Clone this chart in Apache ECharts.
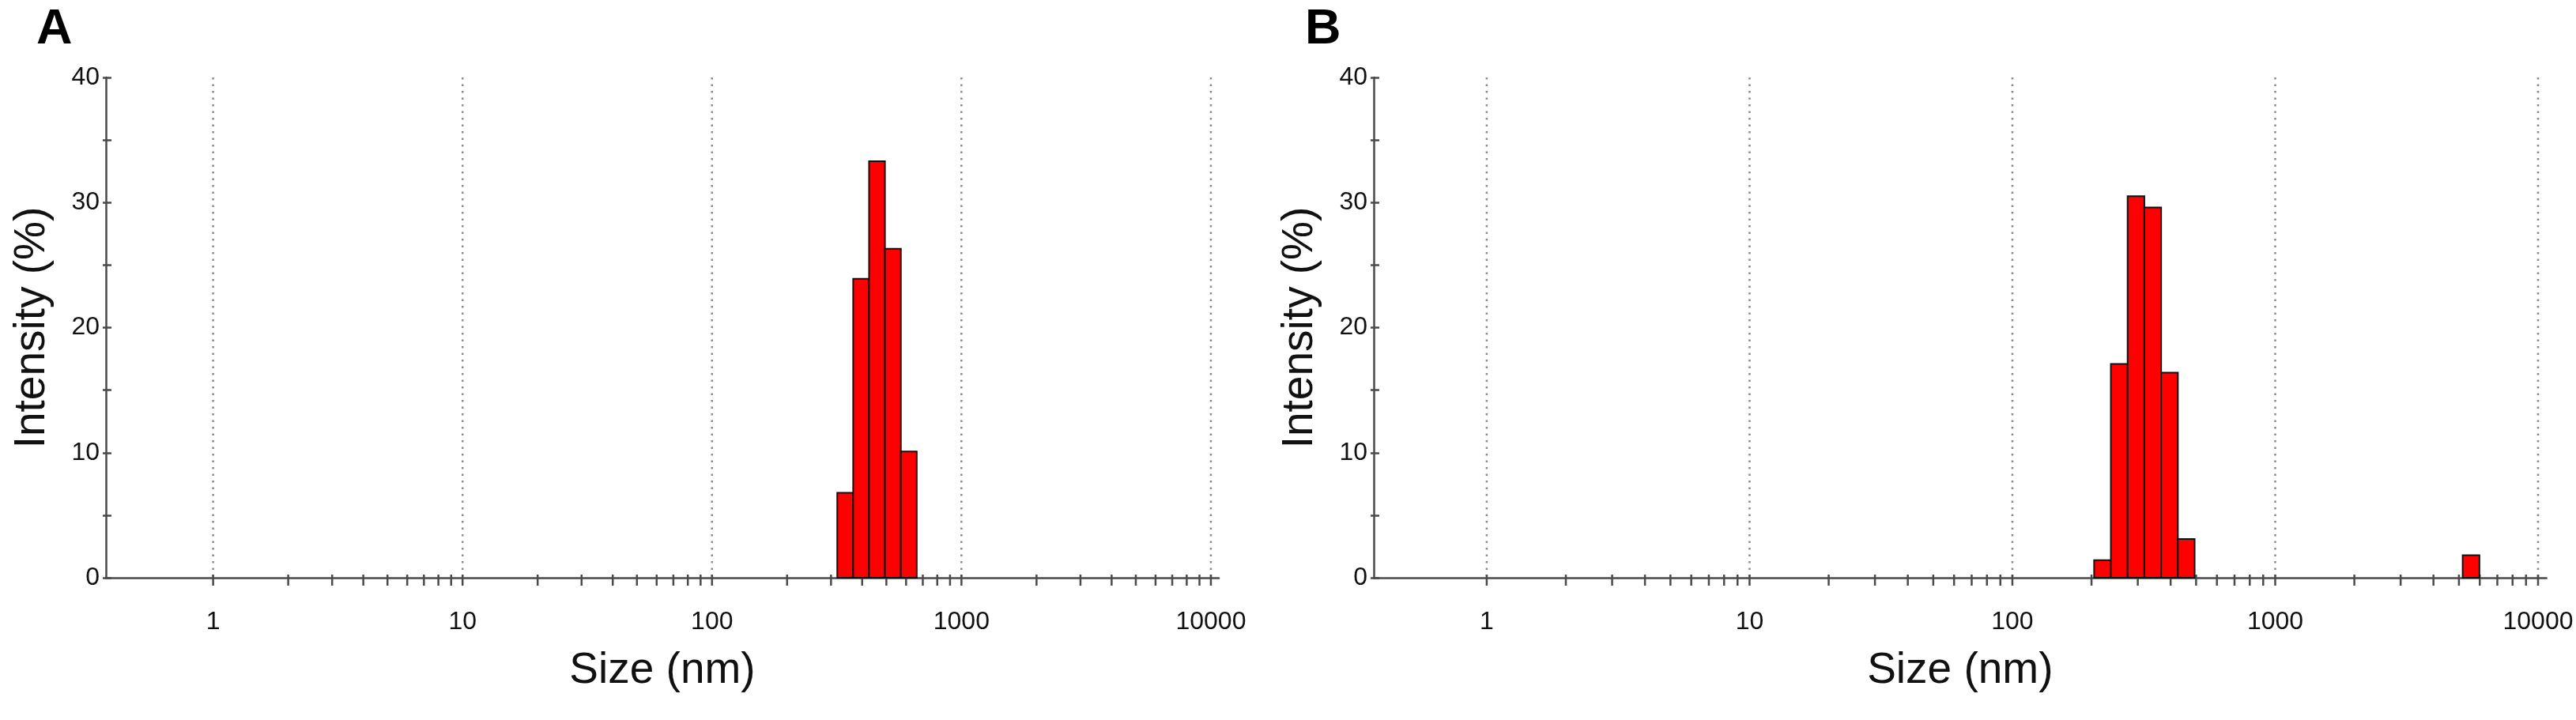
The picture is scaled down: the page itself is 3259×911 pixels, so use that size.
<!DOCTYPE html>
<html>
<head>
<meta charset="utf-8">
<script src="https://cdn.jsdelivr.net/npm/echarts@6/dist/echarts.min.js"></script>
<style>
  html, body { margin: 0; padding: 0; background: #ffffff; }
  #chart { width: 3259px; height: 911px; }
</style>
</head>
<body>
<div id="chart"></div>
<script>
// ---- Data ----
const PANEL_LABELS = ['A', 'B'];
const SIZES_A = [342.0, 396.1, 458.7, 531.2, 615.1];           // nm (bin centres)
const INTENSITY_A = [6.8, 23.9, 33.3, 26.3, 10.1];             // %
const SIZES_B = [220.2, 255.0, 295.3, 342.0, 396.1, 458.7, 5560];
const INTENSITY_B = [1.4, 17.1, 30.5, 29.6, 16.4, 3.1, 1.8];
const DECADE_TICKS = [1, 10, 100, 1000, 10000];
const MINOR_TICKS = [2, 3, 4, 5, 6, 7, 8, 9,
                     20, 30, 40, 50, 60, 70, 80, 90,
                     200, 300, 400, 500, 600, 700, 800, 900,
                     2000, 3000, 4000, 5000, 6000, 7000, 8000, 9000];
const X_MIN = 0.3717, X_MAX = 10762;   // size axis extent (nm)
const Y_MIN = 0, Y_MAX = 40, Y_STEP = 5;
const BIN_RATIO = 1.1582;              // ratio between neighbouring size classes

// ---- Styles ----
const AXIS_COLOR = '#4a4a4a';
const LABEL_FONT = '"Liberation Sans Narrow", "Liberation Sans", Arial, sans-serif';
const NAME_FONT = '"Liberation Sans", Arial, sans-serif';

const chart = echarts.init(document.getElementById('chart'), null, { renderer: 'canvas' });

const grids = [
  { left: 134, right: 1717, top: 98, bottom: 180 },
  { left: 1738, right: 37.4, top: 98, bottom: 180 }
];

function isDecade(v) {
  return DECADE_TICKS.some(d => Math.abs(v - d) / d < 1e-6);
}

const xAxes = [], yAxes = [], series = [];
const halfBin = Math.sqrt(BIN_RATIO);
const panelData = [
  SIZES_A.map((s, i) => [s, INTENSITY_A[i]]),
  SIZES_B.map((s, i) => [s, INTENSITY_B[i]])
];

grids.forEach((g, gi) => {
  xAxes.push({
    type: 'log', logBase: 10, gridIndex: gi, min: X_MIN, max: X_MAX,
    name: 'Size (nm)', nameLocation: 'middle', nameGap: 90,
    nameTextStyle: { fontFamily: NAME_FONT, fontSize: 55, color: '#111' },
    axisLine: { show: true, onZero: false, lineStyle: { color: AXIS_COLOR, width: 2.5 } },
    axisTick: { show: false },
    minorTick: { show: false },
    splitLine: { show: false },
    axisLabel: {
      margin: 40, fontFamily: LABEL_FONT, fontSize: 32, color: '#111',
      showMinLabel: false, showMaxLabel: false,
      formatter: v => isDecade(v) ? String(Math.round(v)) : ''
    }
  });
  // main y axis (labels + outside ticks)
  yAxes.push({
    type: 'value', gridIndex: gi, min: Y_MIN, max: Y_MAX, interval: Y_STEP,
    name: 'Intensity (%)', nameLocation: 'middle', nameGap: 66,
    nameTextStyle: { fontFamily: NAME_FONT, fontSize: 55, color: '#111' },
    axisLine: { show: true, lineStyle: { color: AXIS_COLOR, width: 2.5 } },
    axisTick: { show: true, length: 4, lineStyle: { color: AXIS_COLOR, width: 2.5 } },
    splitLine: { show: false },
    axisLabel: {
      margin: 8, fontFamily: LABEL_FONT, fontSize: 32, color: '#111',
      formatter: v => (v % 10 === 0 ? String(v) : '')
    }
  });
  // twin y axis: inside part of the crossing ticks
  yAxes.push({
    type: 'value', gridIndex: gi, min: Y_MIN, max: Y_MAX, interval: Y_STEP,
    position: 'left',
    axisLine: { show: false },
    axisTick: { show: true, inside: true, length: 7, lineStyle: { color: AXIS_COLOR, width: 2.5 } },
    axisLabel: { show: false },
    splitLine: { show: false }
  });

  const yIdx = gi * 2;
  // dotted vertical grid lines at decades
  series.push({
    type: 'custom', xAxisIndex: gi, yAxisIndex: yIdx, z: 1, silent: true,
    data: DECADE_TICKS.map(v => [v, Y_MAX]),
    renderItem: (params, api) => {
      const top = api.coord([api.value(0), Y_MAX]);
      const bot = api.coord([api.value(0), Y_MIN]);
      return {
        type: 'line',
        shape: { x1: top[0], y1: top[1], x2: bot[0], y2: bot[1] },
        style: { stroke: '#8a8a8a', lineWidth: 2.5, lineDash: [2.5, 6] }
      };
    }
  });
  // x-axis tick marks (crossing the axis)
  series.push({
    type: 'custom', xAxisIndex: gi, yAxisIndex: yIdx, z: 2, silent: true,
    data: DECADE_TICKS.concat(MINOR_TICKS).map(v => [v, Y_MIN]),
    renderItem: (params, api) => {
      const p = api.coord([api.value(0), Y_MIN]);
      return {
        type: 'line',
        shape: { x1: p[0], y1: p[1] - 4, x2: p[0], y2: p[1] + 10 },
        style: { stroke: AXIS_COLOR, lineWidth: 2.5 }
      };
    }
  });
  // histogram bars
  series.push({
    type: 'custom', xAxisIndex: gi, yAxisIndex: yIdx, z: 5,
    data: panelData[gi],
    renderItem: (params, api) => {
      const s = api.value(0), v = api.value(1);
      const p0 = api.coord([s / halfBin, v]);
      const p1 = api.coord([s * halfBin, 0]);
      return {
        type: 'rect',
        shape: { x: p0[0], y: p0[1], width: p1[0] - p0[0], height: p1[1] - p0[1] },
        style: { fill: '#ff0000', stroke: '#111', lineWidth: 2 }
      };
    }
  });
});

chart.setOption({
  backgroundColor: '#ffffff',
  animation: false,
  grid: grids,
  xAxis: xAxes,
  yAxis: yAxes,
  series: series,
  graphic: [
    { type: 'text', left: 46, top: 6, style: { text: PANEL_LABELS[0], font: 'bold 63px "Liberation Sans", Arial, sans-serif', fill: '#000' } },
    { type: 'text', left: 1651, top: 6, style: { text: PANEL_LABELS[1], font: 'bold 63px "Liberation Sans", Arial, sans-serif', fill: '#000' } }
  ]
});
</script>
</body>
</html>
